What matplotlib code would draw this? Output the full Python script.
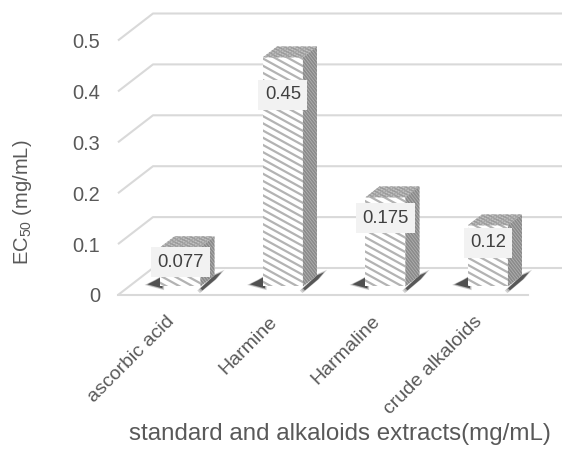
import numpy as np
import matplotlib
matplotlib.use("Agg")
import matplotlib.pyplot as plt
from matplotlib.patches import Polygon
from matplotlib.collections import LineCollection
from matplotlib.transforms import ScaledTranslation

categories = ["ascorbic acid", "Harmine", "Harmaline", "crude alkaloids"]
ec50 = [0.077, 0.45, 0.175, 0.12]
yticks = [0, 0.1, 0.2, 0.3, 0.4, 0.5]
ytick_labels = ["0", "0.1", "0.2", "0.3", "0.4", "0.5"]
xlabel = "standard and alkaloids extracts(mg/mL)"
ylabel = "EC$_{\\mathregular{50}}$ (mg/mL)"

plt.rcParams['font.family'] = ['Liberation Sans', 'DejaVu Sans']
plt.rcParams['mathtext.fontset'] = 'custom'
plt.rcParams['mathtext.rm'] = 'Liberation Sans'

TEXT = '#595959'
GRID = '#d9d9d9'

W, H, DPI = 562, 451, 100
fig = plt.figure(figsize=(W / DPI, H / DPI), dpi=DPI)

# plot area: front-left floor corner and scale of one category / one unit
x0_px, y0_px = 118, 295
cat_px, val_px = 102.5, 509.0
xmax = -0.5 + (W - x0_px) / cat_px
ytop = 0.56
ax = fig.add_axes([x0_px / W, (H - y0_px) / H, (W - x0_px) / W, ytop * val_px / H])
ax.set_xlim(-0.5, xmax)
ax.set_ylim(0, ytop)
for s in ax.spines.values():
    s.set_visible(False)
ax.patch.set_visible(False)

px, py = 1 / cat_px, 1 / val_px
DX, DY = 35 * px, 27 * py   # full floor depth (oblique projection)


def stripes(patch, pts, slope, spacing, color, lw, z):
    """Parallel lines (slope in screen pixels) clipped to a polygon patch."""
    P = np.array(pts) * [cat_px, val_px]
    xa, xb = P[:, 0].min() - 2, P[:, 0].max() + 2
    c = P[:, 1] - slope * P[:, 0]
    ks = np.arange(np.floor(c.min() / spacing) - 1, np.ceil(c.max() / spacing) + 2)
    segs = []
    for k in ks:
        cc = k * spacing
        segs.append([(xa * px, (slope * xa + cc) * py), (xb * px, (slope * xb + cc) * py)])
    lc = LineCollection(segs, colors=color, linewidths=lw, zorder=z)
    ax.add_collection(lc)
    lc.set_clip_path(patch)


def shade(x, y, offs, color, alpha, grow=(0, 1.5, 3)):
    """Soft shadow: a few stacked, slightly widened copies of a polygon."""
    offs = np.array(offs, dtype=float)
    cen = offs.mean(axis=0)
    for g in grow[::-1]:
        scale = 1 + g / 10
        pts = cen + (offs - cen) * scale
        a = alpha if g == 0 else alpha * 0.3
        ax.add_patch(Polygon([(x + p * px, y + q * py) for p, q in pts], closed=True,
                             fc=color, ec='none', alpha=a, zorder=2))


# walls and floor gridlines
for v in yticks:
    ax.plot([-0.5, -0.5 + DX, xmax], [v, v + DY, v + DY], color=GRID, lw=1.5,
            clip_on=False, zorder=1, solid_capstyle='butt')
ax.plot([-0.5, 3.5], [0, 0], color=GRID, lw=1.5, clip_on=False, zorder=1)

ax.set_yticks(yticks, ytick_labels)
ax.tick_params(axis='y', length=0, pad=13, labelsize=14.4, labelcolor=TEXT)
ax.set_xticks([])

# 3D bars
f0, f1 = 0.32, 0.72
d = f1 - f0
w = 40 * px
for i, v in enumerate(ec50):
    xl = i - w / 2 + f0 * DX
    xr = xl + w
    yb = f0 * DY
    # soft floor shadows
    shade(xl, yb, [(-13, 2), (2, -2), (2, 10), (-5, 6)], '#3a3a3a', 0.8)
    shade(xr, yb, [(0, -2), (14, 11), (21, 14), (15, 7), (2, -4)], '#3a3a3a', 0.75)

    front_pts = [(xl, yb), (xr, yb), (xr, yb + v), (xl, yb + v)]
    side_pts = [(xr, yb), (xr + d * DX, yb + d * DY), (xr + d * DX, yb + d * DY + v), (xr, yb + v)]
    top_pts = [(xl, yb + v), (xr, yb + v), (xr + d * DX, yb + v + d * DY), (xl + d * DX, yb + v + d * DY)]

    front = Polygon(front_pts, closed=True, fc='white', ec='none', zorder=3)
    side = Polygon(side_pts, closed=True, fc='#b4b4b4', ec='none', zorder=3)
    top = Polygon(top_pts, closed=True, fc='#c4c4c4', ec='none', zorder=3)
    for p in (front, side, top):
        ax.add_patch(p)
    stripes(front, front_pts, -0.55, 7.2, '#b3b3b3', 1.6, 3.1)
    stripes(side, side_pts, -1.3, 4.0, '#8a8a8a', 1.2, 3.1)
    stripes(top, top_pts, -0.55, 3.5, '#979797', 1.0, 3.1)
    stripes(top, top_pts, 0.9, 3.5, '#a3a3a3', 0.8, 3.1)

    ax.text(i + f0 * DX, 0.88 * v - 0.02 + yb, f"{v:g}", ha='center', va='center',
            fontsize=13.3, color='#404040', zorder=10,
            bbox=dict(boxstyle='square,pad=0.35', fc='#f2f2f2', ec='none'))

# category labels under the front edge
for i, name in enumerate(categories):
    ax.text(i, 0, name, rotation=45, ha='right', va='center', rotation_mode='anchor',
            fontsize=14, color=TEXT,
            transform=ax.transData + ScaledTranslation(3 / DPI, -24 / DPI, fig.dpi_scale_trans))

fig.text(340 / W, 1 - 434 / H, xlabel, ha='center', va='center', fontsize=17.4, color=TEXT)
fig.text(22 / W, 1 - 202 / H, ylabel, rotation=90, ha='center', va='center',
         fontsize=14.5, color=TEXT)

fig.savefig('out.png', dpi=DPI)
